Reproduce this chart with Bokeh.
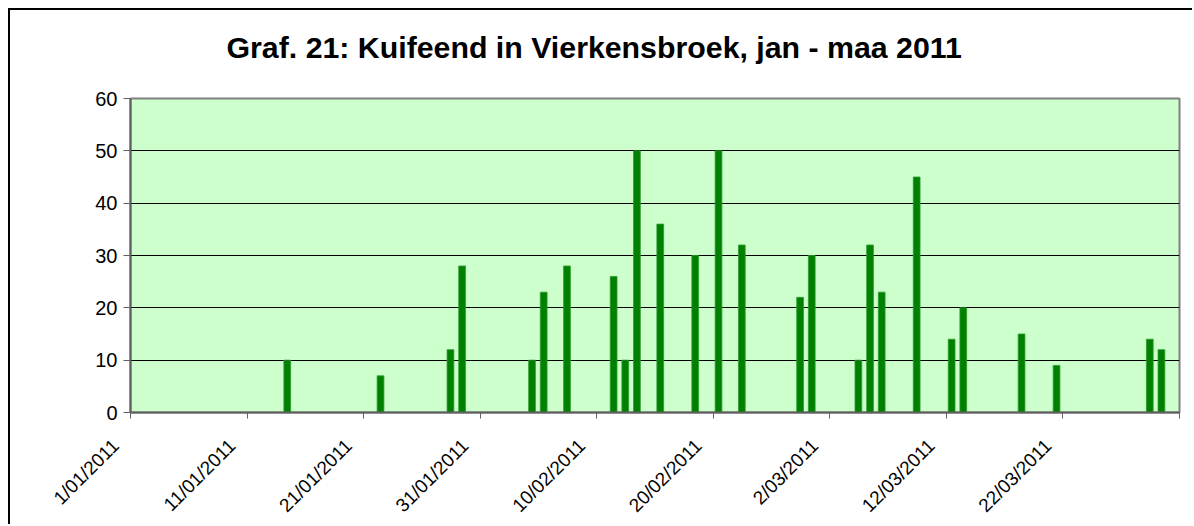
import math
import pandas as pd
from bokeh.plotting import figure
from bokeh.models import Range1d, FixedTicker, ColumnDataSource, Title
from bokeh.embed import file_html
from bokeh.resources import INLINE

# ---- data ----
dates = ["2011-01-14", "2011-01-22", "2011-01-28", "2011-01-29",
         "2011-02-04", "2011-02-05", "2011-02-07", "2011-02-11",
         "2011-02-12", "2011-02-13", "2011-02-15", "2011-02-18",
         "2011-02-20", "2011-02-22", "2011-02-27", "2011-02-28",
         "2011-03-04", "2011-03-05", "2011-03-06", "2011-03-09",
         "2011-03-12", "2011-03-13", "2011-03-18", "2011-03-21",
         "2011-03-29", "2011-03-30"]
counts = [10, 7, 12, 28, 10, 23, 28, 26, 10, 50, 36, 30, 50, 32, 22, 30,
          10, 32, 23, 45, 14, 20, 15, 9, 14, 12]
tick_labels = ["1/01/2011", "11/01/2011", "21/01/2011", "31/01/2011",
               "10/02/2011", "20/02/2011", "2/03/2011", "12/03/2011",
               "22/03/2011"]
y_ticks = [0, 10, 20, 30, 40, 50, 60]
title_text = "Graf. 21: Kuifeend in Vierkensbroek, jan - maa 2011"
start_date = "2011-01-01"
end_date = "2011-04-01"

# ---- derived positions (days since start) ----
t0 = pd.Timestamp(start_date)
day_idx = [(pd.Timestamp(d) - t0).days for d in dates]
span = (pd.Timestamp(end_date) - t0).days
src = ColumnDataSource(dict(x=[d + 0.45 for d in day_idx], top=counts))
xt = list(range(0, span + 1, 10))

FONT = "Liberation Sans"
PAD = "\u00a0" * 4   # moves the rotated labels down-left of their tick, as in Excel

p = figure(width=1184, height=516, output_backend="svg", toolbar_location=None,
           x_range=Range1d(0, span), y_range=Range1d(0, 60),
           min_border_left=120, min_border_right=15, min_border_top=88,
           min_border_bottom=114)
p.styles = {"margin-left": "8px", "margin-top": "8px",
            "border-top": "2px solid black", "border-left": "2px solid black"}

p.background_fill_color = "#CCFFCC"
p.border_fill_color = "white"
p.outline_line_color = "#808080"
p.outline_line_width = 2

p.vbar(x="x", top="top", bottom=0, width=0.58, source=src,
       fill_color="#008000", line_color="#2E9A2E", line_width=0.8)

# title (outermost) + spacer panel between title and plot area
p.title.text = title_text
p.title.align = "left"
p.title.offset = 96
p.title.standoff = 6
p.title.vertical_align = "middle"
p.title.text_font = FONT
p.title.text_font_style = "bold"
p.title.text_font_size = "30.3px"
p.title.text_color = "black"
p.add_layout(Title(text=" ", text_font_size="1px", standoff=28), "above")

# grid
p.xgrid.visible = False
p.ygrid.grid_line_color = "black"
p.ygrid.grid_line_width = 1
p.ygrid.ticker = FixedTicker(ticks=y_ticks)

# y axis
p.yaxis.ticker = FixedTicker(ticks=y_ticks)
p.yaxis.axis_line_color = "#606060"
p.yaxis.axis_line_width = 2
p.yaxis.major_tick_line_color = "#606060"
p.yaxis.major_tick_line_width = 1
p.yaxis.major_tick_out = 7
p.yaxis.major_tick_in = 0
p.yaxis.minor_tick_line_color = None
p.yaxis.major_label_text_font = FONT
p.yaxis.major_label_text_font_size = "20px"
p.yaxis.major_label_text_color = "black"
p.yaxis.major_label_standoff = 6

# x axis
xax = p.below[0]
xax.ticker = FixedTicker(ticks=xt)
xax.major_label_overrides = {t: (tick_labels[i] + PAD) if i < len(tick_labels) else ""
                             for i, t in enumerate(xt)}
xax.major_label_orientation = math.pi / 4
xax.axis_line_color = "#606060"
xax.axis_line_width = 2
xax.major_tick_line_color = "#606060"
xax.major_tick_out = 6
xax.major_tick_in = 0
xax.minor_tick_line_color = None
xax.major_label_text_font = FONT
xax.major_label_text_font_size = "19px"
xax.major_label_text_color = "black"
xax.major_label_standoff = 9

open("out.html", "w").write(file_html(p, INLINE))
